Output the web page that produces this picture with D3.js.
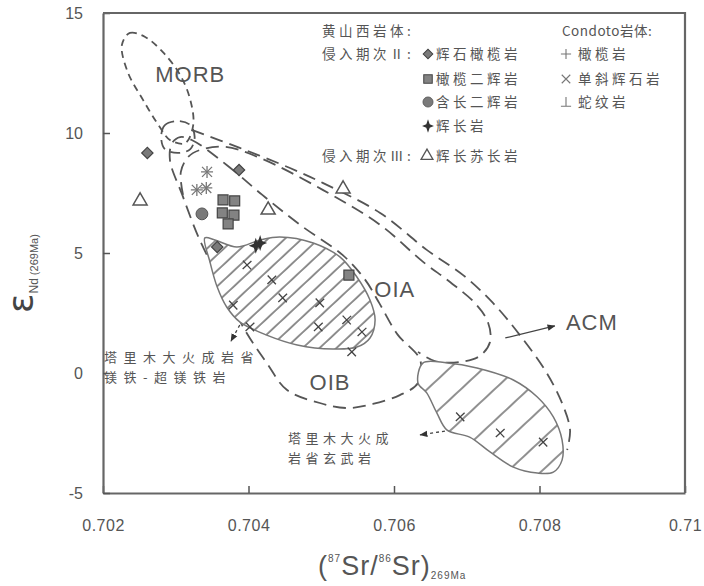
<!DOCTYPE html>
<html>
<head>
<meta charset="utf-8">
<script src="https://cdn.jsdelivr.net/npm/d3@7"></script>
<style>
body { margin: 0; background: #fff; }
text { font-family: "Liberation Sans", Arial, sans-serif; fill: #555; }
.cjk { font-family: "Noto Sans CJK SC", sans-serif; }
</style>
</head>
<body>
<svg width="704" height="586"></svg>
<script>
// axes
const xTicks = [0.702, 0.704, 0.706, 0.708, 0.710];
const xTickLabels = ['0.702', '0.704', '0.706', '0.708', '0.71'];
const yTicks = [-5, 0, 5, 10, 15];
const yTickLabels = ['-5', '0', '5', '10', '15'];

// 黄山西岩体 samples [87Sr/86Sr, εNd]
const pyroxenePeridotite = [[0.70261, 9.17], [0.70387, 8.46], [0.70357, 5.25]];
const lherzolite = [[0.70365, 7.21], [0.70381, 7.17], [0.70364, 6.67], [0.70380, 6.58], [0.70372, 6.21], [0.70538, 4.08]];
const plagWebsterite = [[0.70336, 6.63]];
const gabbro = [[0.70416, 5.42], [0.70410, 5.30]];
const gabbronorite = [[0.70251, 7.17], [0.70427, 6.79], [0.70530, 7.67]];
// Condoto
const condotoPeridotite = [[0.70343, 8.38], [0.70329, 7.63], [0.70342, 7.71]];
const condotoClinopyroxenite = [[0.70343, 8.38], [0.70329, 7.63], [0.70342, 7.71]];

// reference fields
const fieldMORB = [[0.70226, 13.67], [0.70237, 14.17], [0.70258, 14.0], [0.70282, 13.38], [0.70306, 12.42], [0.70320, 11.38],
  [0.70324, 10.33], [0.70313, 9.58], [0.70292, 9.71], [0.70278, 10.25], [0.70255, 11.38], [0.70234, 12.54]];
const fieldLoop = [[0.70280, 9.83], [0.70285, 10.33], [0.70303, 10.5], [0.70320, 10.33], [0.70326, 9.83], [0.70320, 9.33], [0.70303, 9.17], [0.70285, 9.33]];
const fieldOIB = [[0.70322, 9.71], [0.70370, 8.67], [0.70419, 7.42], [0.70471, 6.17], [0.70530, 4.9], [0.70560, 3.9], [0.70580, 2.9],
  [0.70605, 1.6], [0.70636, 0.54], [0.70633, -0.42], [0.70608, -0.92], [0.70571, -1.29], [0.70535, -1.46], [0.70498, -1.25],
  [0.70453, -0.71], [0.70425, 0.42], [0.70395, 1.79], [0.70364, 3.67], [0.70333, 5.54], [0.70309, 7.42], [0.70292, 8.88],
  [0.70295, 9.58], [0.70306, 9.83]];
const fieldOIA = [[0.70310, 7.42], [0.70307, 8.38], [0.70317, 9.0], [0.70333, 9.29], [0.70368, 9.42], [0.70416, 8.96], [0.70502, 7.63],
  [0.70581, 6.17], [0.70640, 4.63], [0.70677, 3.79], [0.70711, 2.92], [0.70729, 2.13], [0.70732, 1.29], [0.70718, 0.71],
  [0.70691, 0.46], [0.70656, 0.5], [0.70633, 0.88]];
const fieldACM = [[0.70322, 10.13], [0.70388, 9.38], [0.70457, 8.54], [0.70502, 7.92], [0.70581, 6.67], [0.70645, 5.13], [0.70695, 4.08],
  [0.70736, 2.92], [0.70773, 1.58], [0.70810, 0], [0.70832, -1.33], [0.70842, -2.38], [0.70838, -3.21]];

// 塔里木大火成岩省
const tarimMafic = [[0.70340, 5.63], [0.70354, 5.54], [0.70384, 5.25], [0.70416, 5.54], [0.70443, 5.67], [0.70489, 5.42], [0.70526, 4.83],
  [0.70549, 4.0], [0.70567, 3.04], [0.70574, 2.21], [0.70567, 1.46], [0.70549, 1.08], [0.70516, 1.0], [0.70467, 1.17],
  [0.70425, 1.58], [0.70388, 2.13], [0.70370, 2.75], [0.70357, 3.58], [0.70347, 4.63]];
const tarimBasalt = [[0.70633, -0.42], [0.70640, 0.42], [0.70673, 0.42], [0.70714, 0.21], [0.70764, -0.29], [0.70797, -1.0], [0.70819, -1.83],
  [0.70831, -2.79], [0.70831, -3.63], [0.70819, -4.13], [0.70797, -4.17], [0.70764, -3.92], [0.70732, -3.29], [0.70704, -2.67],
  [0.70673, -2.38], [0.70659, -1.67], [0.70645, -0.83]];
const tarimMaficTicks = [[0.70398, 4.5], [0.70447, 3.13], [0.70498, 2.92], [0.70496, 1.92], [0.70535, 2.21], [0.70556, 1.71],
  [0.70379, 2.83], [0.70402, 1.92], [0.70542, 0.88], [0.70432, 3.88]];
const tarimBasaltTicks = [[0.70691, -1.83], [0.70746, -2.5], [0.70805, -2.88]];

const fieldLabels = [['MORB', 0.70320, 12.13], ['OIA', 0.70601, 3.17], ['OIB', 0.70512, -0.71], ['ACM', 0.70872, 1.79]];

let svg = d3.select('svg');
let x = d3.scaleLinear().domain([0.702, 0.710]).range([103, 685]);
let y = d3.scaleLinear().domain([-5, 15]).range([493, 13]);

/**
 * hatch patterns
 */
let defs = svg.append('defs');
function hatch(id, gap) {
    let p = defs.append('pattern').attr('id', id)
        .attr('patternUnits', 'userSpaceOnUse')
        .attr('width', gap).attr('height', gap)
        .attr('patternTransform', 'rotate(47)');
    p.append('rect').attr('width', gap).attr('height', gap).attr('fill', '#fff');
    p.append('line').attr('x1', 1).attr('x2', 1).attr('y1', 0).attr('y2', gap)
        .attr('stroke', '#555').attr('stroke-width', 1.3);
}
hatch('h1', 11.5);
hatch('h2', 23);

let closed = d3.line().x(d => x(d[0])).y(d => y(d[1])).curve(d3.curveCatmullRomClosed.alpha(0.5));
let open = d3.line().x(d => x(d[0])).y(d => y(d[1])).curve(d3.curveCatmullRom.alpha(0.5));

/**
 * 範圍
 */
let fields = svg.append('g').attr('fill', 'none').attr('stroke', '#555').attr('stroke-width', 1.8);
fields.append('path').attr('d', closed(fieldMORB)).attr('stroke-dasharray', '7,5');
fields.append('path').attr('d', closed(fieldLoop)).attr('stroke-dasharray', '10,6');
fields.append('path').attr('d', closed(fieldOIB)).attr('stroke-dasharray', '13,7');
fields.append('path').attr('d', open(fieldOIA)).attr('stroke-dasharray', '13,7');
fields.append('path').attr('d', open(fieldACM)).attr('stroke-dasharray', '13,7');

let hatched = svg.append('g');
hatched.append('path').attr('d', closed(tarimMafic)).attr('fill', 'url(#h1)')
    .attr('stroke', '#777').attr('stroke-width', 1.5);
hatched.append('path').attr('d', closed(tarimBasalt)).attr('fill', 'url(#h2)')
    .attr('stroke', '#777').attr('stroke-width', 1.5);
hatched.selectAll('path.tk')
    .data(tarimMaficTicks.concat(tarimBasaltTicks))
    .enter().append('path').attr('class', 'tk')
    .attr('transform', d => `translate(${x(d[0])},${y(d[1])}) rotate(47)`)
    .attr('d', 'M-6,0H6M0,-6V6')
    .attr('stroke', '#444').attr('stroke-width', 1.3);

/**
 * 符號
 */
function mark(sel, type) {
    if (type === 'diamond') {
        sel.append('path').attr('d', d3.symbol(d3.symbolSquare, 64)()).attr('transform', 'rotate(45)')
            .attr('fill', '#7a7a7a').attr('stroke', '#444').attr('stroke-width', 1.2);
    } else if (type === 'square') {
        sel.append('path').attr('d', d3.symbol(d3.symbolSquare, 100)())
            .attr('fill', '#838383').attr('stroke', '#444').attr('stroke-width', 1.2);
    } else if (type === 'circle') {
        sel.append('path').attr('d', d3.symbol(d3.symbolCircle, 110)())
            .attr('fill', '#7a7a7a').attr('stroke', '#555').attr('stroke-width', 1);
    } else if (type === 'star') {
        sel.append('path').attr('d', 'M0,-8L2,-2L7,0L2,2L0,8L-2,2L-7,0L-2,-2Z')
            .attr('fill', '#333');
    } else if (type === 'triangle') {
        sel.append('path').attr('d', d3.symbol(d3.symbolTriangle, 85)())
            .attr('fill', '#fff').attr('stroke', '#555').attr('stroke-width', 1.5);
    } else if (type === 'plus') {
        sel.append('path').attr('d', 'M-6,0H6M0,-6V6').attr('stroke', '#777').attr('stroke-width', 1.3);
    } else if (type === 'cross') {
        sel.append('path').attr('d', 'M-5,-5L5,5M-5,5L5,-5').attr('stroke', '#777').attr('stroke-width', 1.3);
    } else if (type === 'perp') {
        sel.append('path').attr('d', 'M-6,5H6M0,5V-6').attr('stroke', '#777').attr('stroke-width', 1.3);
    }
}

let series = [
    [condotoPeridotite, 'plus'],
    [condotoClinopyroxenite, 'cross'],
    [gabbronorite, 'triangle'],
    [pyroxenePeridotite, 'diamond'],
    [plagWebsterite, 'circle'],
    [lherzolite, 'square'],
    [gabbro, 'star']
];
let pts = svg.append('g');
series.forEach(([data, type]) => {
    pts.selectAll(null).data(data).enter().append('g')
        .attr('transform', d => `translate(${x(d[0])},${y(d[1])})`)
        .each(function () { mark(d3.select(this), type); });
});

/**
 * 軸
 */
let xAxis = d3.axisBottom(x).tickValues(xTicks).tickSize(-7).tickSizeOuter(0)
    .tickPadding(27).tickFormat((d, i) => xTickLabels[i]);
let yAxis = d3.axisLeft(y).tickValues(yTicks).tickSize(-7).tickSizeOuter(0)
    .tickPadding(20).tickFormat((d, i) => yTickLabels[i]);

let xg = svg.append('g').attr('transform', `translate(0,${y(-5)})`).call(xAxis);
let yg = svg.append('g').attr('transform', `translate(${x(0.702)},0)`).call(yAxis);
[xg, yg].forEach(g => {
    g.select('.domain').attr('stroke', '#666').attr('stroke-width', 2.2);
    g.selectAll('.tick line').attr('stroke', '#555').attr('stroke-width', 1.5);
    g.selectAll('.tick text').attr('fill', '#555').style('font-size', '16px')
        .style('font-family', '"Liberation Sans", Arial, sans-serif');
});
xg.selectAll('.tick text').style('letter-spacing', '0.5px');
svg.append('path')
    .attr('d', `M${x(0.702)},${y(15)}H${x(0.710)}V${y(-5)}`)
    .attr('fill', 'none').attr('stroke', '#666').attr('stroke-width', 2.2);

// axis titles
let yt = svg.append('text').attr('transform', 'translate(33,313) rotate(-90)');
yt.append('tspan').text('ε').style('font-size', '36px').style('font-family', '"DejaVu Sans", sans-serif').attr('fill', '#444');
yt.append('tspan').text('Nd').style('font-size', '12px').attr('dy', 5);
yt.append('tspan').text(' (269Ma)').style('font-size', '11px');

let xt = svg.append('text').attr('x', 318).attr('y', 575).attr('fill', '#444').style('letter-spacing', '1px');
xt.append('tspan').text('(').style('font-size', '27px');
xt.append('tspan').text('87').style('font-size', '10px').attr('dy', -13);
xt.append('tspan').text('Sr/').style('font-size', '27px').attr('dy', 13);
xt.append('tspan').text('86').style('font-size', '10px').attr('dy', -13);
xt.append('tspan').text('Sr)').style('font-size', '27px').attr('dy', 13);
xt.append('tspan').text('269Ma').style('font-size', '10px').attr('dy', 4);

/**
 * 標註
 */
svg.append('g').selectAll('text').data(fieldLabels).enter().append('text')
    .attr('x', d => x(d[1])).attr('y', d => y(d[2]))
    .attr('text-anchor', 'middle')
    .style('font-size', '22px').style('letter-spacing', '1px').attr('fill', '#555')
    .text(d => d[0]);

defs.append('marker').attr('id', 'ah').attr('viewBox', '0 0 10 10')
    .attr('refX', 9).attr('refY', 5).attr('markerWidth', 8).attr('markerHeight', 8)
    .attr('orient', 'auto-start-reverse').attr('markerUnits', 'userSpaceOnUse')
    .append('path').attr('d', 'M0,1L10,5L0,9Z').attr('fill', '#333');

let arrows = [
    [[0.70753, 1.46], [0.70821, 1.96], null],
    [[0.70388, 2.0], [0.70376, 1.33], '3,3'],
    [[0.70670, -2.42], [0.70636, -2.58], '3,3']
];
svg.append('g').selectAll('line').data(arrows).enter().append('line')
    .attr('x1', d => x(d[0][0])).attr('y1', d => y(d[0][1]))
    .attr('x2', d => x(d[1][0])).attr('y2', d => y(d[1][1]))
    .attr('stroke', '#444').attr('stroke-width', 1.3)
    .attr('stroke-dasharray', d => d[2])
    .attr('marker-end', 'url(#ah)');

let notes = [
    ['塔里木大火成岩省', 104, 362, 6.5],
    ['镁铁-超镁铁岩', 104, 382, 6.5],
    ['塔里木大火成', 288, 443, 4.5],
    ['岩省玄武岩', 288, 463, 4.5]
];
svg.append('g').selectAll('text').data(notes).enter().append('text')
    .attr('class', 'cjk').attr('x', d => d[1]).attr('y', d => d[2])
    .style('font-size', '13px').style('letter-spacing', d => d[3] + 'px').attr('fill', '#444')
    .text(d => d[0]);

/**
 * 圖例
 */
let legendText = [
    ['黄山西岩体:', 322, 36, 3.5],
    ['侵入期次Ⅱ:', 322, 59, 3.5],
    ['辉石橄榄岩', 436, 59, 3.5],
    ['橄榄二辉岩', 436, 84, 3.5],
    ['含长二辉岩', 436, 107, 3.5],
    ['辉长岩', 436, 131, 3.5],
    ['侵入期次Ⅲ:', 322, 161, 3.5],
    ['辉长苏长岩', 436, 161, 3.5],
    ['Condoto岩体:', 562, 36, 0.5],
    ['橄榄岩', 578, 59, 3.5],
    ['单斜辉石岩', 578, 84, 3.5],
    ['蛇纹岩', 578, 107, 3.5]
];
let legendMarks = [
    ['diamond', 428, 54], ['square', 428, 79], ['circle', 428, 102], ['star', 428, 126], ['triangle', 427, 156],
    ['plus', 566, 54], ['cross', 566, 79], ['perp', 566, 102]
];
let lg = svg.append('g');
lg.selectAll('text').data(legendText).enter().append('text')
    .attr('class', 'cjk').attr('x', d => d[1]).attr('y', d => d[2])
    .style('font-size', '13.5px').style('letter-spacing', d => d[3] + 'px').attr('fill', '#555')
    .text(d => d[0]);
lg.selectAll('g').data(legendMarks).enter().append('g')
    .attr('transform', d => `translate(${d[1]},${d[2]}) scale(0.85)`)
    .each(function (d) { mark(d3.select(this), d[0]); });
</script>
</body>
</html>
